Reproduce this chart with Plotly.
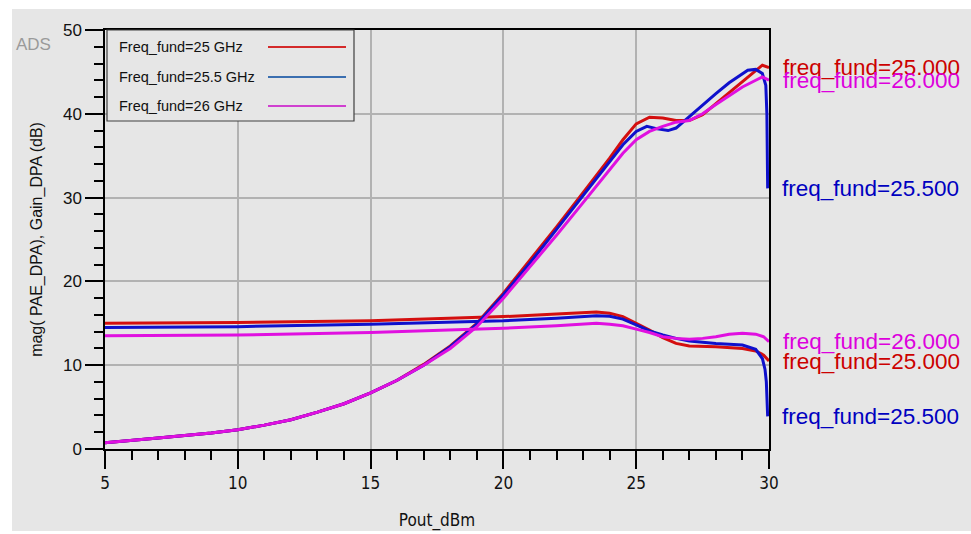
import plotly.graph_objects as go

# ---------------- data ----------------
freq_labels = ["freq_fund=25.000", "freq_fund=25.500", "freq_fund=26.000"]
legend_labels = ["Freq_fund=25 GHz", "Freq_fund=25.5 GHz", "Freq_fund=26 GHz"]

pae_x_25 = [5, 6, 7, 8, 9, 10, 11, 12, 13, 14, 15, 16, 17, 18, 19, 20, 21, 22, 23, 24,
            24.5, 25, 25.5, 26, 26.5, 27, 27.5, 28, 28.5, 29, 29.5, 29.75, 30]
pae_25 = [0.75, 1.0, 1.3, 1.6, 1.9, 2.3, 2.85, 3.5, 4.4, 5.4, 6.7, 8.2, 10.1, 12.3, 15.0, 18.6,
          22.5, 26.5, 30.6, 34.7, 36.9, 38.8, 39.6, 39.5, 39.2, 39.2, 39.9, 41.2, 42.5, 43.9,
          45.2, 45.8, 45.5]

pae_x_255 = [5, 6, 7, 8, 9, 10, 11, 12, 13, 14, 15, 16, 17, 18, 19, 20, 21, 22, 23, 24,
             24.5, 25, 25.4, 25.8, 26.2, 26.5, 27, 27.5, 28, 28.5, 29, 29.2, 29.5, 29.75,
             29.88, 29.92, 29.95]
pae_255 = [0.75, 1.0, 1.3, 1.6, 1.9, 2.3, 2.85, 3.5, 4.4, 5.4, 6.7, 8.2, 10.0, 12.2, 14.9, 18.4,
           22.2, 26.2, 30.2, 34.2, 36.3, 37.9, 38.5, 38.2, 38.0, 38.3, 39.7, 41.0, 42.4, 43.7,
           44.8, 45.2, 45.3, 44.8, 43.4, 40.0, 31.1]

pae_x_26 = [5, 6, 7, 8, 9, 10, 11, 12, 13, 14, 15, 16, 17, 18, 19, 20, 21, 22, 23, 24,
            24.5, 25, 25.5, 26, 26.5, 27, 27.5, 28, 28.5, 29, 29.5, 29.75, 30]
pae_26 = [0.75, 1.0, 1.3, 1.6, 1.9, 2.3, 2.85, 3.5, 4.4, 5.4, 6.7, 8.2, 10.0, 12.0, 14.6, 18.0,
          21.7, 25.5, 29.4, 33.3, 35.3, 36.9, 37.9, 38.5, 39.0, 39.2, 40.0, 41.1, 42.2, 43.2,
          44.0, 44.4, 44.0]

gain_x_25 = [5, 10, 15, 18, 20, 22, 23, 23.5, 24, 24.5, 25, 25.5, 26, 26.5, 27, 28, 29, 29.5,
             29.8, 30]
gain_25 = [15.0, 15.1, 15.3, 15.6, 15.8, 16.1, 16.3, 16.35, 16.2, 15.8, 15.0, 14.2, 13.3, 12.6,
           12.3, 12.2, 12.0, 11.7, 11.2, 10.5]

gain_x_255 = [5, 10, 15, 18, 20, 22, 23, 23.5, 24, 24.5, 25, 25.5, 26, 26.5, 27, 28, 29, 29.5,
              29.75, 29.85, 29.9, 29.95]
gain_255 = [14.5, 14.6, 14.9, 15.1, 15.3, 15.6, 15.8, 15.9, 15.85, 15.5, 14.8, 14.1, 13.6, 13.2,
            12.9, 12.6, 12.4, 11.9, 10.8, 9.5, 8.0, 3.9]

gain_x_26 = [5, 10, 15, 18, 20, 22, 23, 23.5, 24, 24.5, 25, 25.5, 26, 26.5, 27, 27.5, 28, 28.5,
             29, 29.5, 29.8, 30]
gain_26 = [13.5, 13.6, 13.9, 14.2, 14.4, 14.7, 14.9, 15.0, 14.9, 14.7, 14.3, 13.9, 13.4, 13.2,
           13.1, 13.2, 13.4, 13.7, 13.8, 13.7, 13.4, 12.8]

x_ticks = [5, 10, 15, 20, 25, 30]
y_ticks = [0, 10, 20, 30, 40, 50]

# ---------------- styles ----------------
curve_colors = ["#d40f0f", "#0f10cc", "#e010e0"]
label_colors = ["#cc0000", "#0000c0", "#dd00dd"]
legend_line_colors = ["#d42a2a", "#3b6fb0", "#d040d0"]
BG = "#e6e6e6"
FONT = "Arial, Liberation Sans, sans-serif"
NARROW = "DejaVu Sans Condensed, Liberation Sans Narrow, Arial Narrow, sans-serif"

series = [
    (pae_x_25, pae_25, gain_x_25, gain_25),
    (pae_x_255, pae_255, gain_x_255, gain_255),
    (pae_x_26, pae_26, gain_x_26, gain_26),
]

fig = go.Figure()
annotations = []
for i, (px_, py_, gx_, gy_) in enumerate(series):
    for xs, ys in ((px_, py_), (gx_, gy_)):
        fig.add_trace(go.Scatter(x=xs, y=ys, mode="lines",
                                 line=dict(color=curve_colors[i], width=3),
                                 showlegend=False, hoverinfo="skip"))
        annotations.append(dict(x=xs[-1], y=ys[-1], xref="x", yref="y",
                                text=freq_labels[i], showarrow=False,
                                xanchor="left", yanchor="middle", xshift=12,
                                font=dict(family=FONT, size=22.5, color=label_colors[i])))

# manual legend (text left, line sample right)
plot_l, plot_t, plot_w, plot_h = 105, 30, 664, 419
def px2x(p):
    return (p - plot_l) / plot_w
def py2y(p):
    return (plot_t + plot_h - p) / plot_h

shapes = [
    dict(type="rect", xref="paper", yref="paper", layer="below",
         x0=px2x(12), x1=px2x(975), y0=py2y(531), y1=py2y(9),
         fillcolor=BG, line=dict(width=0)),
    dict(type="rect", xref="paper", yref="paper",
         x0=px2x(107), x1=px2x(354), y0=py2y(121), y1=py2y(30),
         fillcolor=BG, line=dict(color="#404040", width=1.2)),
]
leg_y = [47, 77, 106]
for i, lab in enumerate(legend_labels):
    annotations.append(dict(x=px2x(117), y=py2y(leg_y[i]), xref="paper", yref="paper",
                            text=lab, showarrow=False, xanchor="left", yanchor="middle",
                            font=dict(family=FONT, size=14.5, color="#111111")))
    shapes.append(dict(type="line", xref="paper", yref="paper",
                       x0=px2x(268), x1=px2x(346), y0=py2y(leg_y[i]), y1=py2y(leg_y[i]),
                       line=dict(color=legend_line_colors[i], width=2)))

annotations.append(dict(x=px2x(14), y=py2y(45), xref="paper", yref="paper", text="ADS",
                        showarrow=False, xanchor="left", yanchor="middle",
                        font=dict(family=FONT, size=17, color="#9a9a9a")))

fig.update_layout(
    width=971, height=534,
    margin=dict(l=105, r=202, t=30, b=85, autoexpand=False),
    paper_bgcolor="white", plot_bgcolor=BG,
    showlegend=False,
    shapes=shapes, annotations=annotations,
    xaxis=dict(range=[5, 30], tickvals=x_ticks, ticks="outside", ticklen=18, tickwidth=1.5,
               tickcolor="black", showline=True, linecolor="black", linewidth=1.5, mirror=True,
               showgrid=True, gridcolor="#b2b2b2", gridwidth=1.5, zeroline=False,
               minor=dict(dtick=1, ticks="outside", ticklen=9, tickwidth=1.5,
                          tickcolor="black", showgrid=False),
               tickfont=dict(family=NARROW, size=17, color="#111111"),
               title=dict(text="Pout_dBm", standoff=22,
                          font=dict(family=NARROW, size=17, color="#111111"))),
    yaxis=dict(range=[0, 50], tickvals=y_ticks, ticks="outside", ticklen=18, tickwidth=1.5,
               tickcolor="black", showline=True, linecolor="black", linewidth=1.5, mirror=True,
               showgrid=True, gridcolor="#b2b2b2", gridwidth=1.5, zeroline=False,
               minor=dict(dtick=2, ticks="outside", ticklen=9, tickwidth=1.5,
                          tickcolor="black", showgrid=False),
               tickfont=dict(family=FONT, size=17, color="#111111"),
               title=dict(text="mag( PAE_DPA), Gain_DPA (dB)", standoff=16,
                          font=dict(family=FONT, size=16, color="#111111"))),
)

fig.write_html("out.html", config=dict(displayModeBar=False))
